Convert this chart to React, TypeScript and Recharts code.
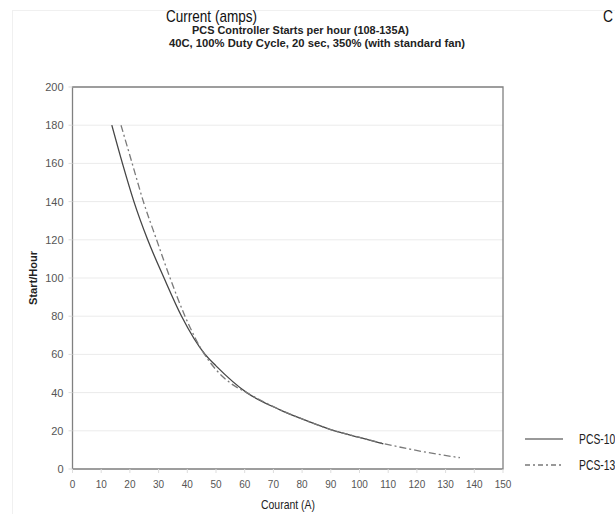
import { CartesianGrid, Legend, Line, LineChart, ReferenceArea, XAxis, YAxis } from "recharts";

// PCS-108 (solid)
const pcs108X = [13.7, 17.4, 21.4, 26.2, 31.9, 38, 46.2, 50, 60.7, 72.3, 79.3, 89.7, 100, 108.3];
const pcs108Y = [180, 160, 140, 120, 100, 80, 60, 54, 40, 31, 26.6, 20.8, 16.5, 13.1];

// PCS-135 (dash-dot)
const pcs135X = [16.9, 20.8, 24.7, 29.3, 34, 39.2, 46, 50, 55, 60.7, 72.3, 79.3, 89.7, 100, 110, 121, 135];
const pcs135Y = [180, 160, 140, 120, 100, 80, 60, 52, 45, 40, 31, 26.6, 20.8, 16.5, 12.8, 9.4, 5.9];

const xTicks = [0, 10, 20, 30, 40, 50, 60, 70, 80, 90, 100, 110, 120, 130, 140, 150];
const yTicks = [0, 20, 40, 60, 80, 100, 120, 140, 160, 180, 200];

const series = [
  { name: "PCS-108", color: "#454545", dash: undefined as string | undefined, xs: pcs108X, ys: pcs108Y },
  { name: "PCS-135", color: "#7a7a7a", dash: "7 3 2 3", xs: pcs135X, ys: pcs135Y },
];

const font = "'Liberation Sans', Arial, sans-serif";

// legend sits at the page edge, labels run off the right side like in the source image
function LegendBox({ payload }: any) {
  return (
    <svg width={120} height={50} style={{ overflow: "visible" }}>
      {(payload || []).map((p: any, i: number) => {
        const s = series.find((d) => d.name === p.value);
        const y = 11 + i * 26;
        return (
          <g key={p.value}>
            <line x1={5} x2={43} y1={y} y2={y} stroke="#999" strokeWidth={2} strokeDasharray={s?.dash ? "5 3 2 3" : undefined} />
            <text x={59} y={y + 5} fontSize={14} fill="#222" fontFamily={font} textLength={42} lengthAdjust="spacingAndGlyphs">
              {p.value}
            </text>
          </g>
        );
      })}
    </svg>
  );
}

export default function App() {
  return (
    <div style={{ position: "absolute", left: 0, top: 0, width: 615, height: 514, overflow: "hidden", background: "#fff" }}>
      <LineChart width={615} height={514} margin={{ top: 87, right: 112, bottom: 15, left: 32.5 }}>
        <CartesianGrid vertical={false} stroke="#ebebeb" />
        <XAxis
          type="number"
          dataKey="x"
          domain={[0, 150]}
          ticks={xTicks}
          height={30}
          axisLine={false}
          tickLine={{ stroke: "#ddd" }}
          tickSize={4}
          tickMargin={8}
          tick={{ fontSize: 10, fill: "#555", fontFamily: font }}
        />
        <YAxis
          type="number"
          domain={[0, 200]}
          ticks={yTicks}
          width={40}
          axisLine={false}
          tickLine={{ stroke: "#ddd" }}
          tickSize={4}
          tickMargin={5}
          tick={{ fontSize: 11, fill: "#555", fontFamily: font }}
        />
        <ReferenceArea x1={0} x2={150} y1={0} y2={200} fill="none" stroke="#808080" strokeWidth={1.3} />
        {series.map((s) => (
          <Line
            key={s.name}
            name={s.name}
            data={s.xs.map((x, i) => ({ x, y: s.ys[i] }))}
            dataKey="y"
            type="monotone"
            stroke={s.color}
            strokeWidth={1.3}
            strokeDasharray={s.dash}
            dot={false}
            isAnimationActive={false}
          />
        ))}
        <Legend
          layout="vertical"
          align="center"
          verticalAlign="middle"
          content={LegendBox}
          wrapperStyle={{ position: "absolute", left: 520, top: 428, width: 120, height: 50 }}
        />
      </LineChart>
      <svg width={615} height={514} style={{ position: "absolute", left: 0, top: 0, pointerEvents: "none" }}>
        <line x1={12} x2={615} y1={10.5} y2={10.5} stroke="#f0f0f0" />
        <line x1={12.5} x2={12.5} y1={10} y2={514} stroke="#f0f0f0" />
        <text x={166} y={22} fontSize={17} fill="#111" fontFamily={font} textLength={91} lengthAdjust="spacingAndGlyphs">
          Current (amps)
        </text>
        <text x={603} y={22} fontSize={17} fill="#111" fontFamily={font} textLength={10} lengthAdjust="spacingAndGlyphs">
          C
        </text>
        <text x={192} y={34} fontSize={11} fontWeight="bold" fill="#222" fontFamily={font} textLength={217} lengthAdjust="spacingAndGlyphs">
          PCS Controller Starts per hour (108-135A)
        </text>
        <text x={169} y={47} fontSize={11} fontWeight="bold" fill="#222" fontFamily={font} textLength={296} lengthAdjust="spacingAndGlyphs">
          40C, 100% Duty Cycle, 20 sec, 350% (with standard fan)
        </text>
        <text
          x={33}
          y={278}
          transform="rotate(-90 33 278)"
          textAnchor="middle"
          dominantBaseline="central"
          fontSize={10}
          fontWeight="bold"
          fill="#222"
          fontFamily={font}
          textLength={54}
          lengthAdjust="spacingAndGlyphs"
        >
          Start/Hour
        </text>
        <text x={261} y={509} fontSize={13} fill="#222" fontFamily={font} textLength={54} lengthAdjust="spacingAndGlyphs">
          Courant (A)
        </text>
      </svg>
    </div>
  );
}
